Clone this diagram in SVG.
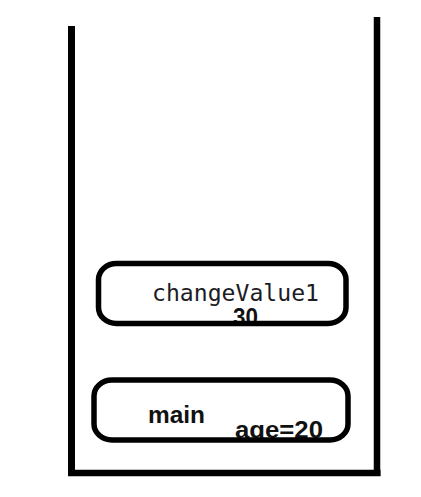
<svg xmlns="http://www.w3.org/2000/svg" width="421" height="497" viewBox="0 0 421 497">
<style>
.wall{stroke:#000;fill:none;stroke-linecap:butt}
.frame{fill:none;stroke:#000;stroke-width:5.5}
.mono{font-family:"DejaVu Sans Mono","Liberation Mono",monospace;font-size:23px;fill:#1c1c24}
.bold{font-family:"Liberation Sans",Arial,sans-serif;font-weight:bold;font-size:24px;fill:#111}
</style>
<defs>
<clipPath id="clipMain"><rect x="0" y="0" width="421" height="439"/></clipPath>
</defs>
<rect width="421" height="497" fill="#fff"/>
<g id="stack">
<line class="wall" x1="71.5" y1="26" x2="71.5" y2="476" stroke-width="7"/>
<line class="wall" x1="377" y1="17" x2="377" y2="476" stroke-width="6.5"/>
<line class="wall" x1="68" y1="473" x2="380.5" y2="473" stroke-width="6.5"/>
</g>
<g id="connectors"></g>
<g id="changeValue1">
<text class="mono" x="152" y="301" textLength="167" lengthAdjust="spacingAndGlyphs">changeValue1</text>
<text class="bold" x="233" y="325" textLength="25" lengthAdjust="spacingAndGlyphs">30</text>
<rect class="frame" x="98.5" y="263.5" width="247.5" height="60" rx="18" ry="16"/>
</g>
<g id="main">
<text class="bold" x="148" y="423" textLength="57" lengthAdjust="spacingAndGlyphs" style="font-size:23px">main</text>
<text class="bold" x="235" y="438" clip-path="url(#clipMain)" textLength="88" lengthAdjust="spacingAndGlyphs">age=20</text>
<rect class="frame" x="94" y="380" width="254" height="60" rx="18" ry="16"/>
</g>
</svg>
